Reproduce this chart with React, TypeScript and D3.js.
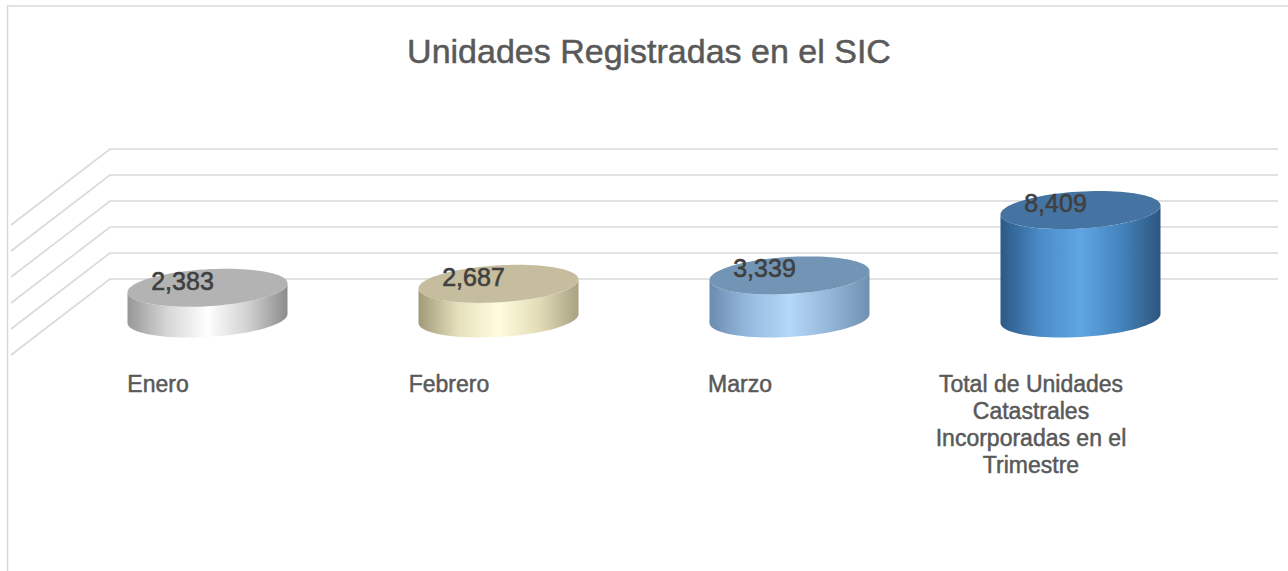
import React from "react";
import * as d3 from "d3";

const categories: string[][] = [
  ["Enero"],
  ["Febrero"],
  ["Marzo"],
  ["Total de Unidades", "Catastrales", "Incorporadas en el", "Trimestre"],
];
const values: number[] = [2383, 2687, 3339, 8409];
const valueLabels: string[] = ["2,383", "2,687", "3,339", "8,409"];
const gridTicks: number[] = [0, 2000, 4000, 6000, 8000, 10000];
const title = "Unidades Registradas en el SIC";

const palettes = [
  { top: "#b3b3b3", side: ["#979797", "#d6d6d6", "#ffffff", "#d2d2d2", "#8c8c8c"] },
  { top: "#c6bd9e", side: ["#a19a78", "#e6e0bd", "#fffddf", "#e3dcb8", "#a9a182"] },
  { top: "#7395b5", side: ["#6a8cae", "#97bbe0", "#b4d8f8", "#95b6d8", "#7090b0"] },
  { top: "#4574a2", side: ["#2c5884", "#4a8cc8", "#5fa6e4", "#4584bd", "#2d567e"] },
];

const W = 1288;
const H = 571;
const backLeft = 110;
const backRight = 1278;
const depthDx = -99;
const depthDy = 76;

export default function App() {
  const yBack = d3.scaleLinear().domain([0, 10000]).range([279, 149]);
  const hScale = d3.scaleLinear().domain([0, 10000]).range([0, 129]);
  const x = d3
    .scaleBand<number>()
    .domain(d3.range(values.length))
    .range([62, 1226])
    .paddingInner(0)
    .paddingOuter(0);

  const baseY = 318.5;
  const rx = 80;
  const ry = 18.5;
  const k = 4.5 / 80; // shear slope

  const ellPt = (cx: number, cy: number, t: number): [number, number] => [
    cx + rx * Math.cos(t),
    cy + ry * Math.sin(t) - k * rx * Math.cos(t),
  ];

  const line = d3.line();

  const arcPts = (cx: number, cy: number, t0: number, t1: number, n = 40) =>
    d3.range(n + 1).map((i) => ellPt(cx, cy, t0 + ((t1 - t0) * i) / n));

  return (
    <svg
      width={W}
      height={H}
      style={{ position: "absolute", left: 0, top: 0, background: "#fff" }}
      fontFamily="'Liberation Sans', Arial, sans-serif"
    >
      <defs>
        {palettes.map((p, i) => (
          <linearGradient key={i} id={`side${i}`} x1="0" x2="1" y1="0" y2="0">
            {p.side.map((c, j) => (
              <stop key={j} offset={`${(j / (p.side.length - 1)) * 100}%`} stopColor={c} />
            ))}
          </linearGradient>
        ))}
      </defs>
      {/* frame */}
      <path d={`M7.5,${H} L7.5,6 L${W},6`} fill="none" stroke="#d9d9d9" strokeWidth={1.5} />
      {/* title */}
      <text
        x={649}
        y={63}
        textAnchor="middle"
        fontSize={34}
        fill="#595959"
        stroke="#595959"
        strokeWidth={0.5}
      >
        {title}
      </text>
      {/* gridlines */}
      {gridTicks.map((t) => {
        const y = yBack(t);
        return (
          <path
            key={t}
            d={`M${backLeft + depthDx},${y + depthDy} L${backLeft},${y} L${backRight},${y}`}
            fill="none"
            stroke="#d9d9d9"
            strokeWidth={1.6}
          />
        );
      })}
      {/* cylinders */}
      {values.map((v, i) => {
        const cx = (x(i) as number) + x.bandwidth() / 2;
        const h = hScale(v);
        const topY = baseY - h;
        const bottom = arcPts(cx, baseY, Math.PI, 0);
        const topFront = arcPts(cx, topY, 0, Math.PI);
        const sidePts: [number, number][] = [...bottom, ...topFront];
        const topPts = arcPts(cx, topY, 0, Math.PI * 2, 90);
        return (
          <g key={i}>
            <path d={(line(sidePts) as string) + "Z"} fill={`url(#side${i})`} />
            <path d={(line(topPts) as string) + "Z"} fill={palettes[i].top} />
          </g>
        );
      })}
      {/* value labels */}
      {values.map((v, i) => {
        const cx = (x(i) as number) + x.bandwidth() / 2;
        const topY = baseY - hScale(v);
        return (
          <text
            key={i}
            x={cx - 25}
            y={topY + 2}
            textAnchor="middle"
            fontSize={25}
            fill="#404040"
            stroke="#404040"
            strokeWidth={0.6}
          >
            {valueLabels[i]}
          </text>
        );
      })}
      {/* category labels */}
      {categories.map((lines, i) => {
        const cx = (x(i) as number) + x.bandwidth() / 2 + depthDx / 2;
        return (
          <text
            key={i}
            x={cx}
            y={392}
            textAnchor="middle"
            fontSize={23}
            fill="#595959"
            stroke="#595959"
            strokeWidth={0.5}
          >
            {lines.map((l, j) => (
              <tspan key={j} x={cx} dy={j === 0 ? 0 : 27}>
                {l}
              </tspan>
            ))}
          </text>
        );
      })}
    </svg>
  );
}
